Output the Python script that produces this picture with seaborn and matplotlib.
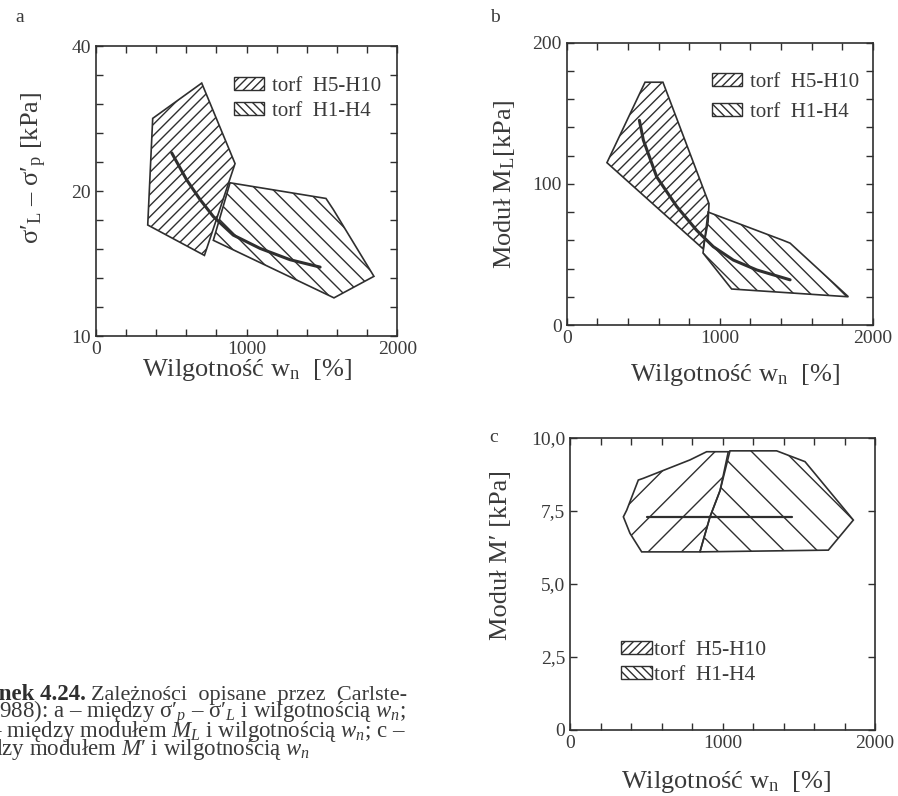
import numpy as np
import pandas as pd
import matplotlib
matplotlib.use("Agg")
import matplotlib.pyplot as plt
import seaborn as sns
from matplotlib.patches import Patch
from matplotlib.ticker import FixedLocator, NullFormatter

# ---------------- data ----------------
# panel a (log y)
a_h5_x = [703, 924, 721, 345, 378]
a_h5_y = [33.5, 22.8, 14.7, 17.0, 28.3]
a_h1_x = [891, 1527, 1576, 1845, 1580, 780]
a_h1_y = [20.8, 19.3, 18.3, 13.3, 12.0, 15.8]
a_curve_x = [504, 603, 692, 780, 912, 1090, 1289, 1488]
a_curve_y = [24.0, 21.1, 19.2, 17.7, 16.2, 15.2, 14.4, 13.9]

# panel b
b_h5_x = [512, 629, 930, 924, 891, 263]
b_h5_y = [172, 172, 86, 73, 54, 115]
b_h1_x = [924, 1414, 1460, 1841, 1078, 891]
b_h1_y = [80, 60, 58, 20, 25.5, 51]
b_curve_x = [475, 501, 588, 719, 850, 958, 1089, 1242, 1460]
b_curve_y = [145, 131, 105, 84, 67, 55.5, 46, 39, 32]

# panel c
c_h5_x = [896, 1038, 984, 918, 852, 470, 393, 350, 372, 448, 481, 787]
c_h5_y = [9.53, 9.53, 8.2, 7.3, 6.1, 6.1, 6.74, 7.3, 7.53, 8.56, 8.62, 9.25]
c_h1_x = [1049, 1355, 1541, 1595, 1858, 1694, 852, 918, 984]
c_h1_y = [9.56, 9.56, 9.19, 8.85, 7.19, 6.16, 6.1, 7.3, 8.2]
c_line_x = [503, 1454]
c_line_y = [7.28, 7.28]

legend_labels = ["torf  H5-H10", "torf  H1-H4"]
x_ticks = [0, 1000, 2000]
a_yticks = [10, 20, 40]
b_yticks = [0, 100, 200]
c_yticks = [0, 2.5, 5.0, 7.5, 10.0]
c_yticklabels = ["0", "2,5", "5,0", "7,5", "10,0"]

# ---------------- style ----------------
sns.set_theme(style="ticks")
plt.rcParams["font.family"] = ["Liberation Serif", "DejaVu Serif"]
plt.rcParams["mathtext.fontset"] = "custom"
plt.rcParams["mathtext.rm"] = "Liberation Serif"
plt.rcParams["mathtext.it"] = "Liberation Serif:italic"
plt.rcParams["mathtext.bf"] = "Liberation Serif:bold"
plt.rcParams["hatch.linewidth"] = 1.0

INK = "#2f2f2f"
TXT = "#3a3a3a"
W, H = 898, 796

fig = plt.figure(figsize=(W / 100, H / 100), dpi=100)
fig.patch.set_facecolor("white")


def box(l, r, t, b):
    return [l / W, 1 - b / H, (r - l) / W, (b - t) / H]


ax_a = fig.add_axes(box(95.7, 397.3, 46, 336))
ax_b = fig.add_axes(box(566.7, 872.7, 42.7, 325))
ax_c = fig.add_axes(box(570, 875, 438, 730))


def style_axes(ax, minor_x=True):
    for s in ax.spines.values():
        s.set_linewidth(1.2)
        s.set_color(INK)
    ax.set_facecolor("white")
    ax.tick_params(which="both", direction="in", top=True, right=True,
                   length=5, width=1.0, color=INK, labelcolor=TXT,
                   labelsize=14)
    ax.tick_params(which="minor", length=5)
    ax.set_xlim(0, 2000)
    ax.set_xticks(x_ticks)
    ax.set_xticklabels([str(t) for t in x_ticks])
    if minor_x:
        ax.xaxis.set_minor_locator(FixedLocator(np.arange(200, 2000, 200)))
    ax.grid(False)


def poly(ax, x, y, hatch):
    ax.fill(x, y, facecolor="none", edgecolor=INK, hatch=hatch,
            linewidth=1.2, zorder=2)


def legend(ax, anchor, hatches, fs=15, pad=0.4, spacing=0.35):
    handles = [Patch(facecolor="white", edgecolor=INK, hatch=h, linewidth=1.0)
               for h in hatches]
    ax.legend(handles, legend_labels, loc="upper left", bbox_to_anchor=anchor,
              frameon=False, fontsize=fs, handlelength=1.45, handleheight=0.6,
              handletextpad=pad, labelspacing=spacing, borderpad=0.2,
              labelcolor=TXT)


xlabel = "Wilgotność w$_\\mathrm{n}$  [%]"
LBL = 19

# ---- panel a ----
ax = ax_a
poly(ax, a_h1_x, a_h1_y, "\\\\")
poly(ax, a_h5_x, a_h5_y, "///")
sns.lineplot(x=a_curve_x, y=a_curve_y, ax=ax, color=INK, linewidth=2.2,
             sort=False, estimator=None)
ax.set_yscale("log")
ax.set_ylim(10, 40)
style_axes(ax)
ax.set_yticks(a_yticks)
ax.set_yticklabels([str(t) for t in a_yticks])
ax.yaxis.set_minor_locator(FixedLocator([10 * 4 ** (k / 10) for k in range(1, 10) if k != 5]))
ax.yaxis.set_minor_formatter(NullFormatter())
ax.set_xlabel(xlabel, fontsize=LBL, color=TXT)
ax.xaxis.set_label_coords(0.5, -0.072)
ax.set_ylabel("σ′$_\\mathrm{L}$ – σ′$_\\mathrm{p}$ [kPa]", fontsize=LBL, color=TXT)
ax.yaxis.set_label_coords(-0.155, 0.58)
legend(ax, (0.409, 0.944), ["////", "\\\\\\\\"], spacing=0.3)

# ---- panel b ----
ax = ax_b
poly(ax, b_h1_x, b_h1_y, "\\\\")
poly(ax, b_h5_x, b_h5_y, "///")
sns.lineplot(x=b_curve_x, y=b_curve_y, ax=ax, color=INK, linewidth=2.2,
             sort=False, estimator=None)
ax.set_ylim(0, 200)
style_axes(ax)
ax.set_yticks(b_yticks)
ax.set_yticklabels([str(t) for t in b_yticks])
ax.yaxis.set_minor_locator(FixedLocator(np.arange(20, 200, 20)))
ax.set_xlabel(xlabel, fontsize=LBL, color=TXT)
ax.xaxis.set_label_coords(0.55, -0.13)
ax.set_ylabel("Moduł M$_\\mathrm{L}$[kPa]", fontsize=LBL, color=TXT)
ax.yaxis.set_label_coords(-0.162, 0.5)
legend(ax, (0.427, 0.944), ["////", "\\\\\\\\"], spacing=0.5)

# ---- panel c ----
ax = ax_c
poly(ax, c_h1_x, c_h1_y, "\\")
poly(ax, c_h5_x, c_h5_y, "/")
sns.lineplot(x=c_line_x, y=c_line_y, ax=ax, color=INK, linewidth=1.6,
             sort=False, estimator=None)
ax.set_ylim(0, 10)
style_axes(ax)
ax.set_yticks(c_yticks)
ax.set_yticklabels(c_yticklabels)
ax.set_xlabel(xlabel, fontsize=LBL, color=TXT)
ax.xaxis.set_label_coords(0.51, -0.135)
ax.set_ylabel("Moduł M′ [kPa]", fontsize=LBL, color=TXT)
ax.yaxis.set_label_coords(-0.19, 0.6)
legend(ax, (0.117, 0.357), ["////", "\\\\\\\\"], fs=15.5, pad=0.1, spacing=0.25)

# panel letters
for txt, px, py in [("a", 20, 17), ("b", 495, 17), ("c", 494, 437)]:
    fig.text(px / W, 1 - py / H, txt, fontsize=14, color=TXT,
             ha="center", va="center")

# caption
CAP = 16.5
fig.text(86 / W, 1 - 700 / H, "Rysunek 4.24.", fontsize=CAP, fontweight="bold",
         color=INK, ha="right", va="baseline")
fig.text(91 / W, 1 - 700 / H, "Zależności  opisane  przez  Carlste-", fontsize=16,
         color=TXT, ha="left", va="baseline")
fig.text(406 / W, 1 - 718 / H,
         "n (1988): a – między σ′$_{p}$ – σ′$_{L}$ i wilgotnością $w_n$;",
         fontsize=CAP, color=TXT, ha="right", va="baseline")
fig.text(406 / W, 1 - 737 / H,
         "b – między modułem $M_L$ i wilgotnością $w_n$; c –",
         fontsize=CAP, color=TXT, ha="right", va="baseline")
fig.text(310 / W, 1 - 755 / H,
         "między modułem $M$′ i wilgotnością $w_n$",
         fontsize=CAP, color=TXT, ha="right", va="baseline")

fig.savefig("out.png", dpi=100, facecolor="white")
